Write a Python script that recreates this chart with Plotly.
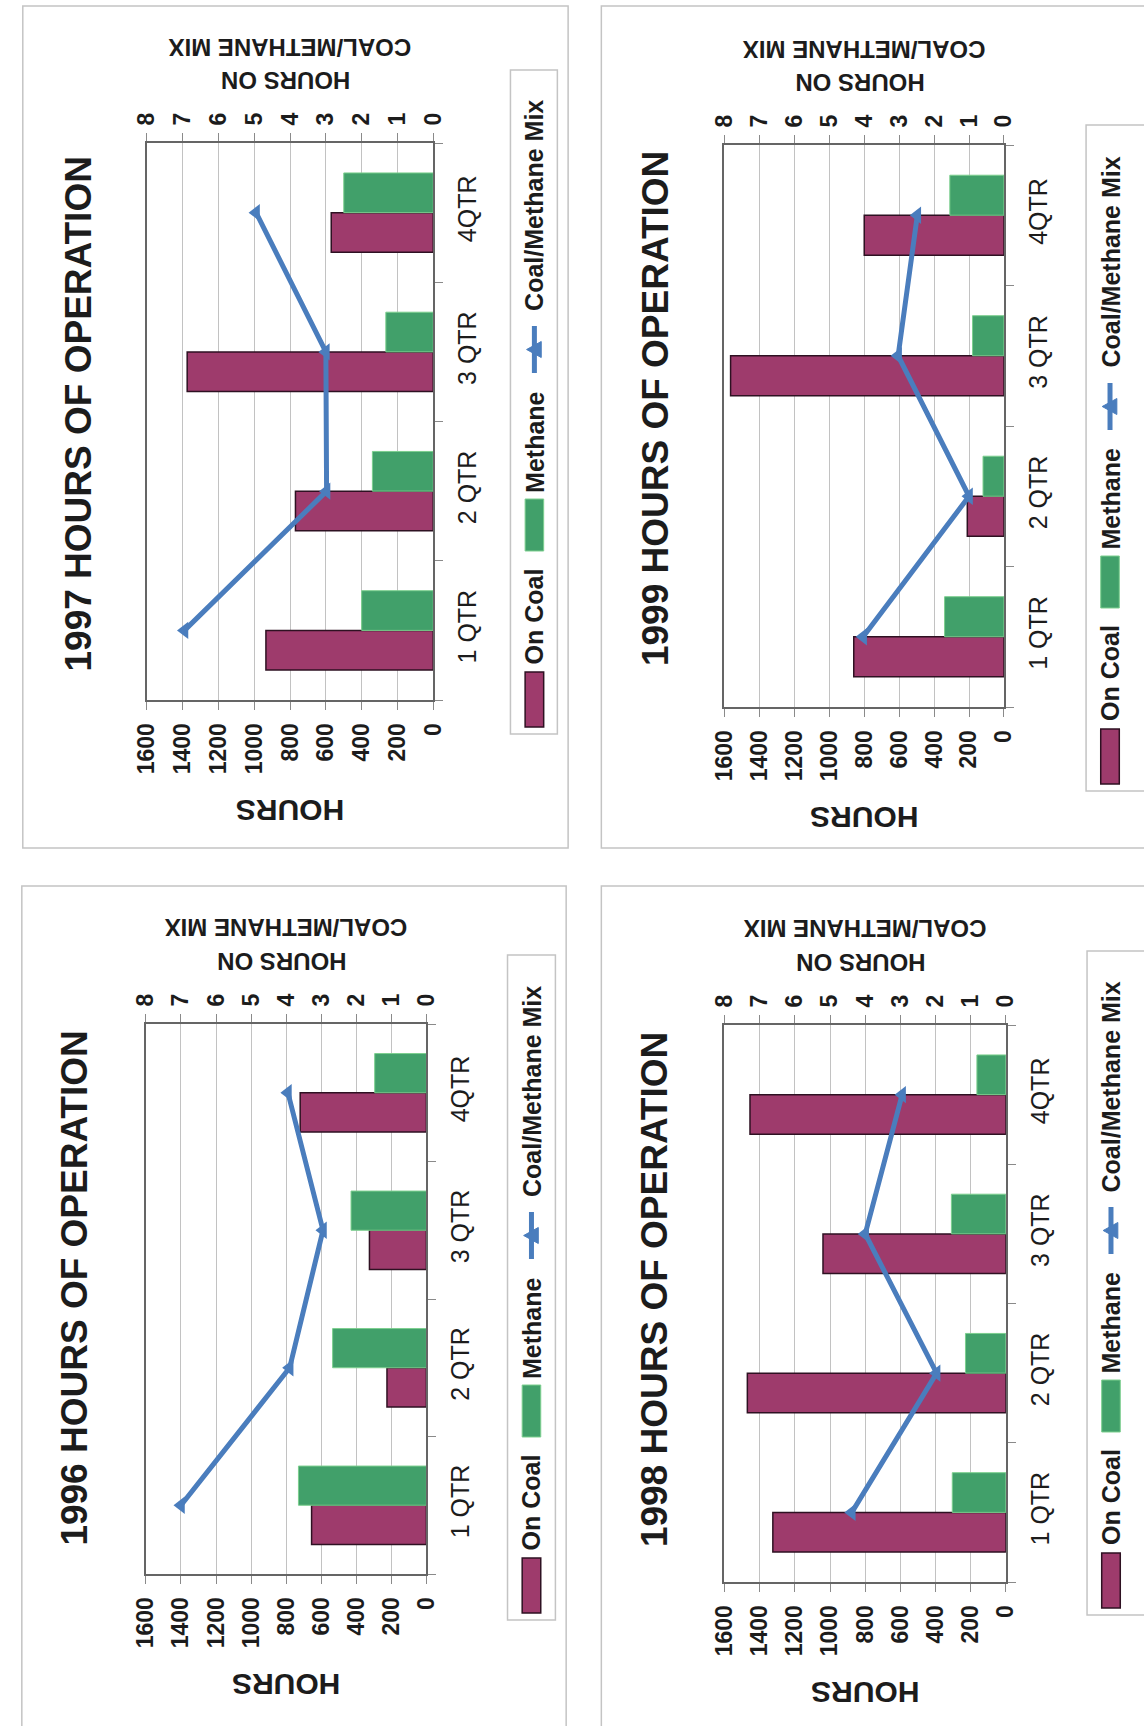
import plotly.graph_objects as go

W, H = 1144, 1726

quarters = ["1 QTR", "2 QTR", "3 QTR", "4QTR"]
series_names = ["On Coal", "Methane", "Coal/Methane Mix"]

hours_ticks = [0, 200, 400, 600, 800, 1000, 1200, 1400, 1600]
mix_ticks = [0, 1, 2, 3, 4, 5, 6, 7, 8]

# hours per quarter
coal_1996 = [655, 225, 325, 720]
methane_1996 = [730, 535, 430, 295]
mix_1996 = [7, 3.9, 2.95, 3.95]

coal_1997 = [935, 770, 1375, 570]
methane_1997 = [400, 340, 265, 500]
mix_1997 = [6.95, 2.98, 3.0, 4.95]

coal_1998 = [1325, 1470, 1040, 1455]
methane_1998 = [305, 230, 310, 165]
mix_1998 = [4.38, 1.97, 4.0, 2.95]

coal_1999 = [860, 210, 1565, 800]
methane_1999 = [340, 120, 180, 310]
mix_1999 = [4.03, 1.0, 3.03, 2.48]

COAL = "#9e3b6c"
COAL_EDGE = "#2e1122"
METH = "#41a06a"
METH_EDGE = "#7ccf8e"
MIX = "#4a7dbd"
FONT = "Liberation Sans, Arial, sans-serif"
INK = "#1c1c1c"


def px(x):
    return x / W


def py(y):
    return 1 - y / H


# page layout of each chart block, in pixels
panels = [
    dict(year="1997", coal=coal_1997, meth=methane_1997, mix=mix_1997,
         plot=(136, 429, 143, 700), box=(9, 567, 6, 848),
         title=(67, 414), legend=(508, 556, 70, 734)),
    dict(year="1999", coal=coal_1999, meth=methane_1999, mix=mix_1999,
         plot=(727, 1013, 145, 707), box=(601, 1160, 6, 848),
         title=(657, 409), legend=(1097, 1160, 125, 791)),
    dict(year="1996", coal=coal_1996, meth=methane_1996, mix=mix_1996,
         plot=(135, 422, 1024, 1574), box=(8, 565, 886, 1740),
         title=(61, 1288), legend=(505, 554, 955, 1620)),
    dict(year="1998", coal=coal_1998, meth=methane_1998, mix=mix_1998,
         plot=(727, 1015, 1025, 1582), box=(601, 1160, 886, 1740),
         title=(655, 1290), legend=(1098, 1160, 951, 1615)),
]

fig = go.Figure()
layout = dict(
    width=W, height=H, margin=dict(l=0, r=0, t=0, b=0),
    paper_bgcolor="white", plot_bgcolor="white",
    barmode="group", bargap=0.43, bargroupgap=0.0,
    showlegend=False,
)
shapes = []
annotations = []

AXIS_LINE = "#656565"
GRID = "#c2c2c2"
TICK = "#8a8a8a"

for k, p in enumerate(panels):
    xb = 2 * k + 1
    xt = 2 * k + 2
    yk = k + 1
    xb_ref = "x" if xb == 1 else f"x{xb}"
    xt_ref = f"x{xt}"
    y_ref = "y" if yk == 1 else f"y{yk}"
    xb_name = "xaxis" if xb == 1 else f"xaxis{xb}"
    xt_name = f"xaxis{xt}"
    y_name = "yaxis" if yk == 1 else f"yaxis{yk}"

    L, R, T, B = p["plot"]

    layout[xb_name] = dict(
        domain=[px(L), px(R)], anchor=y_ref, side="bottom",
        range=[1600, 0], tickvals=hours_ticks,
        showgrid=True, gridcolor=GRID, gridwidth=1,
        showline=True, linecolor=AXIS_LINE, linewidth=2,
        ticks="outside", ticklen=8, tickcolor=TICK, tickwidth=1,
        tickangle=-90, ticklabelstandoff=4,
        tickfont=dict(family=FONT, size=23, color=INK, weight="bold"),
        zeroline=False, fixedrange=True,
    )
    layout[xt_name] = dict(
        overlaying=xb_ref, anchor=y_ref, side="top",
        range=[8, 0], tickvals=mix_ticks,
        showgrid=False, showline=True, linecolor=AXIS_LINE, linewidth=2,
        ticks="outside", ticklen=8, tickcolor=TICK, tickwidth=1,
        tickangle=-90, ticklabelstandoff=3,
        tickfont=dict(family=FONT, size=23, color=INK, weight="bold"),
        zeroline=False, fixedrange=True,
    )
    layout[y_name] = dict(
        domain=[py(B), py(T)], anchor=xb_ref, side="right",
        type="category", categoryorder="array", categoryarray=quarters,
        range=[-0.5, 3.5], tickson="boundaries",
        ticks="outside", ticklen=8, tickcolor=TICK, tickwidth=1,
        showline=True, mirror=True, linecolor=AXIS_LINE, linewidth=2,
        showgrid=False, zeroline=False, fixedrange=True,
        tickangle=-90, ticklabelstandoff=11,
        tickfont=dict(family=FONT, size=25, color=INK),
    )

    fig.add_trace(go.Bar(
        x=p["coal"], y=quarters, orientation="h", name=series_names[0],
        xaxis=xb_ref, yaxis=y_ref,
        marker=dict(color=COAL, line=dict(color=COAL_EDGE, width=1.5)),
    ))
    fig.add_trace(go.Bar(
        x=p["meth"], y=quarters, orientation="h", name=series_names[1],
        xaxis=xb_ref, yaxis=y_ref,
        marker=dict(color=METH, line=dict(color=METH_EDGE, width=1)),
    ))
    fig.add_trace(go.Scatter(
        x=p["mix"], y=quarters, name=series_names[2], mode="lines+markers",
        xaxis=xt_ref, yaxis=y_ref,
        line=dict(color=MIX, width=5),
        marker=dict(symbol="triangle-left", size=15, color=MIX),
    ))

    # outer frame of the chart block
    bx0, bx1, by0, by1 = p["box"]
    shapes.append(dict(type="rect", xref="paper", yref="paper",
                       x0=px(bx0), x1=px(bx1), y0=py(by1), y1=py(by0),
                       line=dict(color="#c4c4c4", width=1.5), layer="below"))

    cx = (L + R) / 2
    tx, ty = p["title"]
    annotations.append(dict(
        text=f"{p['year']} HOURS OF OPERATION", x=px(tx), y=py(ty),
        xref="paper", yref="paper", showarrow=False, textangle=-90,
        xanchor="center", yanchor="middle",
        font=dict(family=FONT, size=37, color=INK, weight="bold")))
    annotations.append(dict(
        text="HOURS", x=px(cx), y=py(B + 111), xref="paper", yref="paper",
        showarrow=False, textangle=180, xanchor="center", yanchor="middle",
        font=dict(family=FONT, size=30, color=INK, weight="bold")))
    annotations.append(dict(
        text="HOURS ON", x=px(cx - 4), y=py(T - 62), xref="paper", yref="paper",
        showarrow=False, textangle=180, xanchor="center", yanchor="middle",
        font=dict(family=FONT, size=24, color=INK, weight="bold")))
    annotations.append(dict(
        text="COAL/METHANE MIX", x=px(cx), y=py(T - 96), xref="paper", yref="paper",
        showarrow=False, textangle=180, xanchor="center", yanchor="middle",
        font=dict(family=FONT, size=24, color=INK, weight="bold")))

    # legend, drawn turned on its side like the rest of the block
    lx0, lx1, ly0, ly1 = p["legend"]
    shapes.append(dict(type="rect", xref="paper", yref="paper",
                       x0=px(lx0), x1=px(lx1), y0=py(ly1), y1=py(ly0),
                       line=dict(color="#c4c4c4", width=1.5)))
    sx0, sx1 = lx0 + 15, lx0 + 34
    shapes.append(dict(type="rect", xref="paper", yref="paper",
                       x0=px(sx0), x1=px(sx1), y0=py(ly1 - 7), y1=py(ly1 - 62),
                       fillcolor=COAL, line=dict(color=COAL_EDGE, width=1.5)))
    shapes.append(dict(type="rect", xref="paper", yref="paper",
                       x0=px(sx0), x1=px(sx1), y0=py(ly1 - 183), y1=py(ly1 - 235),
                       fillcolor=METH, line=dict(color=METH_EDGE, width=1)))
    mxc = (sx0 + sx1) / 2
    shapes.append(dict(type="line", xref="paper", yref="paper",
                       x0=px(mxc), x1=px(mxc), y0=py(ly1 - 361), y1=py(ly1 - 408),
                       line=dict(color=MIX, width=5)))
    my = ly1 - 384.5
    shapes.append(dict(type="path", xref="paper", yref="paper",
                       path=(f"M {px(mxc - 8)} {py(my)} L {px(mxc + 7)} {py(my - 8)} "
                             f"L {px(mxc + 7)} {py(my + 8)} Z"),
                       fillcolor=MIX, line=dict(color=MIX, width=1)))
    tx_leg = px(mxc)
    for label, off in ((series_names[0], 118), (series_names[1], 292.5),
                       (series_names[2], 528.5)):
        annotations.append(dict(
            text=label, x=tx_leg, y=py(ly1 - off), xref="paper", yref="paper",
            showarrow=False, textangle=-90, xanchor="center", yanchor="middle",
            font=dict(family=FONT, size=25, color=INK, weight="bold")))

layout["shapes"] = shapes
layout["annotations"] = annotations
fig.update_layout(**layout)

fig.write_html("out.html")
